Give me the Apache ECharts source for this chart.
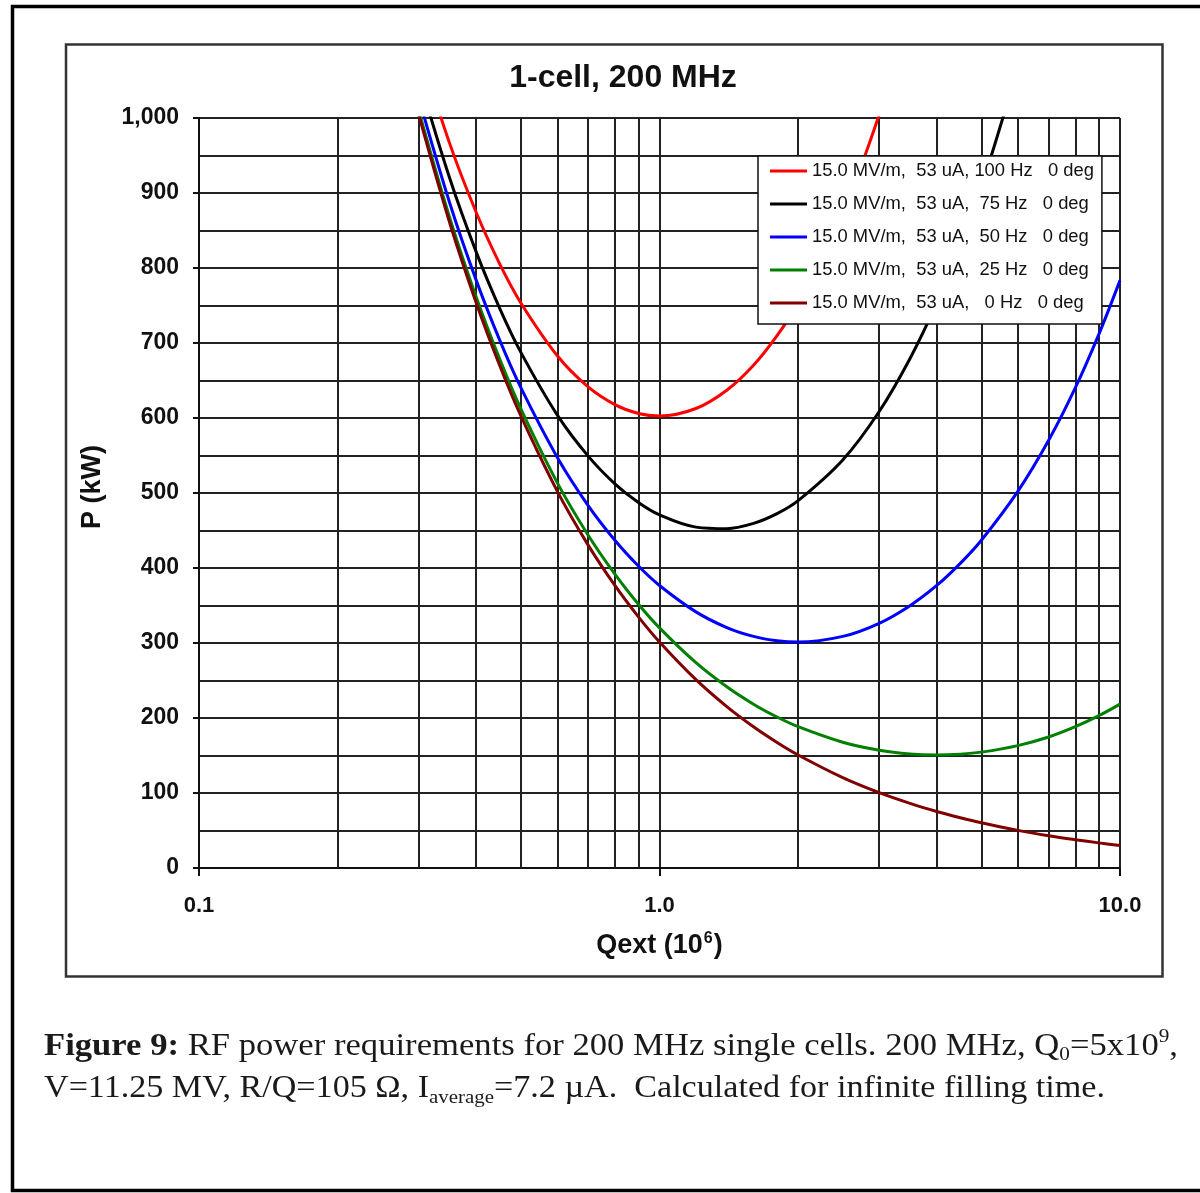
<!DOCTYPE html>
<html><head><meta charset="utf-8">
<script src="https://cdn.jsdelivr.net/npm/echarts@6/dist/echarts.min.js"></script>
<style>html,body{margin:0;padding:0;background:#fff;overflow:hidden}#c{width:1200px;height:1193px}</style>
</head><body><div id="c"></div>
<script>
// ---------------- data ----------------
const qext = [0.3, 0.35, 0.4, 0.45, 0.5, 0.6, 0.7, 0.8, 0.9, 1.0, 1.2, 1.4, 1.6, 1.8, 2.0, 2.5, 3.0, 3.5, 4.0, 4.5, 5.0, 6.0, 7.0, 8.0, 9.0, 10.0];
const p100Hz = [1094.9, 966.5, 874.0, 805.2, 753.4, 683.0, 641.4, 617.8, 606.0, 602.7, 612.7, 637.0, 670.3, 709.8, 753.4, 873.8, 1004.5, 1140.8, null, null, null, null, null, null, null, null];
const p75Hz  = [1055.3, 920.3, 821.2, 745.9, 687.5, 603.9, 549.2, 512.3, 487.3, 470.8, 454.5, 452.5, 459.5, 472.5, 489.8, 544.1, 608.7, 679.4, 753.4, 830.1, 907.8, 1067.1, null, null, null, null];
const p50Hz  = [1027.1, 887.4, 783.5, 703.5, 640.4, 547.4, 483.2, 437.0, 402.6, 376.7, 341.5, 320.6, 308.8, 303.0, 301.3, 308.8, 326.3, 349.8, 376.7, 406.2, 437.0, 502.2, 570.3, 640.4, 711.9, 783.5];
const p25Hz  = [1010.2, 867.6, 760.9, 678.1, 612.1, 513.5, 443.7, 391.8, 351.7, 320.2, 273.7, 241.6, 218.4, 201.3, 188.4, 167.6, 156.9, 152.0, 150.7, 151.8, 154.5, 163.2, 174.7, 188.4, 203.1, 218.5];
const p0Hz   = [1004.5, 861.0, 753.4, 669.6, 602.7, 502.2, 430.5, 376.7, 334.8, 301.3, 251.1, 215.2, 188.3, 167.4, 150.7, 120.5, 100.4, 86.1, 75.3, 67.0, 60.3, 50.2, 43.0, 37.7, 33.5, 30.1];

const seriesNames = [
  '15.0 MV/m,  53 uA, 100 Hz   0 deg',
  '15.0 MV/m,  53 uA,  75 Hz   0 deg',
  '15.0 MV/m,  53 uA,  50 Hz   0 deg',
  '15.0 MV/m,  53 uA,  25 Hz   0 deg',
  '15.0 MV/m,  53 uA,   0 Hz   0 deg'
];
const seriesValues = [p100Hz, p75Hz, p50Hz, p25Hz, p0Hz];
const seriesColors = ['#ff0000', '#000000', '#0000ff', '#008000', '#800000'];

const xTickValues = [0.1, 1, 10];
const xTickLabels = ['0.1', '1.0', '10.0'];
const xMinorGrid = [0.2, 0.3, 0.4, 0.5, 0.6, 0.7, 0.8, 0.9, 2, 3, 4, 5, 6, 7, 8, 9];

const titleText = '1-cell, 200 MHz';
const yName = 'P (kW)';

// ---------------- helpers ----------------
const SANS = '"Liberation Sans", Arial, sans-serif';
const SERIF = '"Liberation Serif", "Times New Roman", serif';
const NARROW = '"Liberation Sans Narrow", "Arial Narrow", "Liberation Sans", Arial, sans-serif';
const mctx = document.createElement('canvas').getContext('2d');
function textW(t, font) { mctx.font = font; return mctx.measureText(t).width; }

const legendFontSize = Math.min(22, 20 * 282 / textW(seriesNames[0], '20px ' + NARROW));

// caption builder (fragments laid out by measured width, then condensed)
function captionLine(frags, x0, cy, right) {
  let x = 0; const kids = [];
  frags.forEach(f => {
    const font = f.font;
    kids.push({ type: 'text', x: x, y: f.dy, style: { text: f.t, font: font, fill: '#1a1a1a', verticalAlign: 'middle', align: 'left' } });
    x += textW(f.t, font);
  });
  return { type: 'group', x: x0, y: cy, scaleX: (right - x0) / x, children: kids };
}
const fN = '31px ' + SERIF, fB = 'bold 31px ' + SERIF, fS = '19px ' + SERIF;
const cap1 = captionLine([
  { t: 'Figure 9:', font: fB, dy: 0 },
  { t: ' RF power requirements for 200 MHz single cells. 200 MHz, Q', font: fN, dy: 0 },
  { t: '0', font: fS, dy: 8 },
  { t: '=5x10', font: fN, dy: 0 },
  { t: '9', font: fS, dy: -10 },
  { t: ',', font: fN, dy: 0 }
], 44, 1047, 1178);
const cap2 = captionLine([
  { t: 'V=11.25 MV, R/Q=105 \u03A9, I', font: fN, dy: 0 },
  { t: 'average', font: fS, dy: 9 },
  { t: '=7.2 \u00B5A.  Calculated for infinite filling time.', font: fN, dy: 0 }
], 44, 1089, 1105);

// ---------------- chart ----------------
const chart = echarts.init(document.getElementById('c'), null, { renderer: 'canvas' });

const series = seriesValues.map((vals, i) => {
  const s = {
    name: seriesNames[i],
    type: 'line',
    data: qext.map((x, k) => [x, vals[k]]).filter(d => d[1] != null),
    showSymbol: false,
    symbol: 'none',
    smooth: 0.35,
    clip: true,
    z: 3,
    lineStyle: { color: seriesColors[i], width: 3 },
    itemStyle: { color: seriesColors[i] },
    emphasis: { disabled: true },
    animation: false
  };
  if (i === 0) {
    s.markLine = {
      silent: true, z: 1, symbol: ['none', 'none'],
      label: { show: false },
      lineStyle: { color: '#222', width: 2, type: 'solid' },
      emphasis: { disabled: true },
      animation: false,
      data: xMinorGrid.map(v => ({ xAxis: v }))
    };
  }
  return s;
});

chart.setOption({
  animation: false,
  backgroundColor: '#ffffff',
  title: {
    text: titleText, left: 623, top: 62, padding: 0, textAlign: 'center',
    textStyle: { fontFamily: SANS, fontSize: 32, fontWeight: 'bold', color: '#111' }
  },
  grid: { left: 199, top: 118, width: 921, height: 750, containLabel: false },
  legend: {
    left: 758, top: 156, orient: 'vertical',
    padding: [5, 8, 11, 12],
    backgroundColor: '#ffffff', borderColor: '#111', borderWidth: 1.5,
    icon: 'rect', itemWidth: 37, itemHeight: 3, itemGap: 13,
    selectedMode: false,
    textStyle: { fontFamily: NARROW, fontSize: legendFontSize, lineHeight: 20, color: '#111' },
    data: seriesNames
  },
  xAxis: {
    type: 'log', logBase: 10, min: 0.1, max: 10,
    name: '{a|Qext (10}{s|6}{a|)}', nameLocation: 'middle', nameGap: 63,
    nameTextStyle: {
      rich: {
        a: { fontFamily: SANS, fontSize: 27, fontWeight: 'bold', color: '#111', lineHeight: 30 },
        s: { fontFamily: SANS, fontSize: 16, fontWeight: 'bold', color: '#111', lineHeight: 30, verticalAlign: 'top', padding: [0, 1, 0, 1] }
      }
    },
    axisLine: { show: true, lineStyle: { color: '#111', width: 2 } },
    axisTick: { show: true, inside: false, length: 8, lineStyle: { color: '#111', width: 2 } },
    axisLabel: {
      margin: 27, fontFamily: SANS, fontSize: 22, fontWeight: 'bold', color: '#111',
      formatter: v => {
        let best = 0;
        xTickValues.forEach((t, i) => { if (Math.abs(Math.log10(v) - Math.log10(t)) < Math.abs(Math.log10(v) - Math.log10(xTickValues[best]))) best = i; });
        return xTickLabels[best];
      }
    },
    splitLine: { show: true, lineStyle: { color: '#222', width: 2 } },
    minorTick: { show: false },
    minorSplitLine: { show: false }
  },
  yAxis: {
    type: 'value', min: 0, max: 1000, interval: 100,
    name: yName, nameLocation: 'middle', nameGap: 93, nameRotate: 90,
    nameTextStyle: { fontFamily: SANS, fontSize: 27, fontWeight: 'bold', color: '#111', padding: [0, 0, 0, 12] },
    axisLine: { show: true, lineStyle: { color: '#111', width: 2 } },
    axisTick: { show: true, inside: false, length: 6, lineStyle: { color: '#111', width: 2 } },
    axisLabel: {
      margin: 20, fontFamily: SANS, fontSize: 23, fontWeight: 'bold', color: '#111',
      formatter: v => v.toLocaleString('en-US')
    },
    splitLine: { show: true, lineStyle: { color: '#222', width: 2 } },
    minorTick: { show: false, splitNumber: 2 },
    minorSplitLine: { show: true, lineStyle: { color: '#222', width: 2 } }
  },
  graphic: [
    { type: 'rect', silent: true, z: -1, shape: { x: 12.5, y: 6.5, width: 1400, height: 1184 }, style: { fill: 'none', stroke: '#000', lineWidth: 3.5 } },
    { type: 'rect', silent: true, z: -1, shape: { x: 66, y: 44.5, width: 1096.5, height: 932 }, style: { fill: 'none', stroke: '#333', lineWidth: 2.5 } },
    cap1, cap2
  ],
  series: series
});
</script>
</body></html>
